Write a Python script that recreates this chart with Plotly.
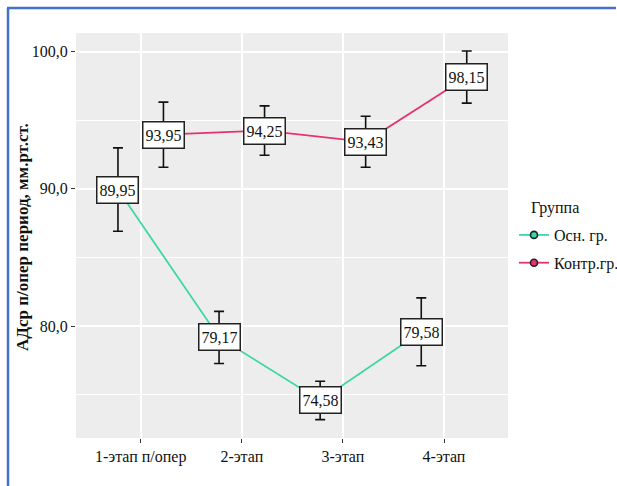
import plotly.graph_objects as go

categories = ["1-этап п/опер", "2-этап", "3-этап", "4-этап"]
groups = ["Осн. гр.", "Контр.гр."]
osn_mean = [89.95, 79.17, 74.58, 79.58]
osn_ci = [3.04, 1.9, 1.4, 2.47]
kontr_mean = [93.95, 94.25, 93.43, 98.15]
kontr_ci = [2.37, 1.8, 1.86, 1.9]
y_ticks = [80, 90, 100]
y_ticktext = ["80,0", "90,0", "100,0"]

colors = ["#3DD6A8", "#E6336E"]
dodge = 0.225
serif = "Liberation Serif"

W, H = 617, 486
L, R, T, B = 76, 109, 33, 48
PW, PH = W - L - R, H - T - B


def px_x(px):
    return (px - L) / PW


def px_y(py):
    return (H - B - py) / PH


fig = go.Figure()
series = [(osn_mean, osn_ci), (kontr_mean, kontr_ci)]
for gi, (means, ci) in enumerate(series):
    off = -dodge if gi == 0 else dodge
    xs = [i + off for i in range(len(categories))]
    fig.add_trace(go.Scatter(
        x=xs, y=means, mode="lines+markers", name=groups[gi], legendgroup=groups[gi],
        line=dict(color=colors[gi], width=1.8),
        marker=dict(size=7, color=colors[gi], line=dict(color="#222", width=1.6)),
        error_y=dict(type="data", array=ci, visible=True, color="#111",
                     thickness=1.6, width=5),
    ))
    for x, m in zip(xs, means):
        fig.add_annotation(
            x=x, y=m, xref="x", yref="y", showarrow=False,
            text=f"{m:.2f}".replace(".", ","),
            font=dict(family=serif, size=16, color="#111"),
            width=36, height=21,
            bgcolor="white", bordercolor="#222", borderwidth=1.5, borderpad=2,
        )

# legend title
fig.add_annotation(x=px_x(529), y=px_y(208), xref="paper", yref="paper", text="Группа",
                   showarrow=False, xanchor="left", yanchor="middle",
                   font=dict(family=serif, size=16, color="#111"))
# y axis title
fig.add_annotation(x=px_x(22), y=px_y(237), xref="paper", yref="paper",
                   text="<b>АДср п/опер период, мм.рт.ст.</b>", textangle=-90,
                   showarrow=False, xanchor="center", yanchor="middle",
                   font=dict(family=serif, size=17, color="#111"))

fig.update_layout(
    width=W, height=H,
    margin=dict(l=L, r=R, t=T, b=B, autoexpand=False),
    paper_bgcolor="white", plot_bgcolor="#EDEDED",
    showlegend=True,
    legend=dict(x=px_x(514), xanchor="left", y=px_y(218), yanchor="top",
                font=dict(family=serif, size=16, color="#111"),
                bgcolor="rgba(0,0,0,0)", itemwidth=30,
                traceorder="grouped", tracegroupgap=4),
    font=dict(family=serif, color="#111"),
)

fig.update_xaxes(
    range=[-0.64, 3.633], tickvals=list(range(len(categories))), ticktext=categories,
    showgrid=True, gridcolor="white", gridwidth=2, zeroline=False,
    ticks="outside", ticklen=4, tickcolor="#333", tickwidth=1,
    tickfont=dict(family=serif, size=16, color="#111"), showline=False,
)
fig.update_yaxes(
    range=[71.84, 101.36], tickvals=y_ticks, ticktext=y_ticktext,
    showgrid=True, gridcolor="white", gridwidth=2, zeroline=False,
    minor=dict(tickvals=[75, 85, 95], showgrid=True, gridcolor="white", gridwidth=1, ticks=""),
    ticks="outside", ticklen=4, tickcolor="#333", tickwidth=1,
    tickfont=dict(family=serif, size=16, color="#111"),
)

# blue frame lines (top and left)
fig.add_shape(type="line", xref="paper", yref="paper",
              x0=px_x(7), x1=px_x(W - 1), y0=px_y(8), y1=px_y(8),
              line=dict(color="#4472C4", width=2.5))
fig.add_shape(type="line", xref="paper", yref="paper",
              x0=px_x(8), x1=px_x(8), y0=px_y(8), y1=px_y(H),
              line=dict(color="#4472C4", width=2.5))

fig.write_html("out.html", config={"displayModeBar": False},
               post_script="document.body.style.margin='0';document.body.style.overflow='hidden';")
